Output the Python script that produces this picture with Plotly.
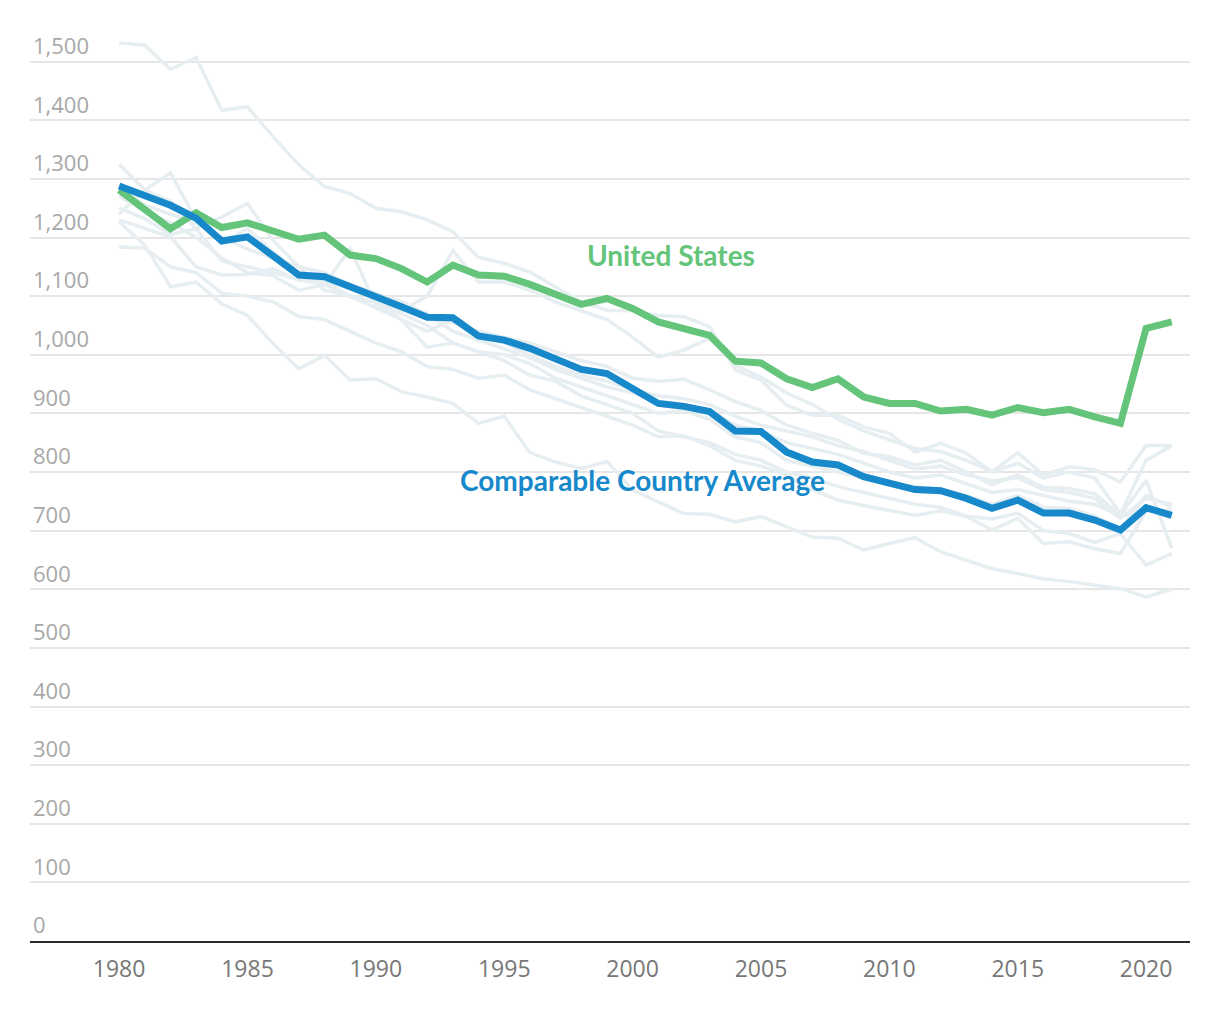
import plotly.graph_objects as go

years = list(range(1980, 2022))

us_values = [1281, 1247, 1215, 1242, 1217, 1225, 1211, 1197, 1204, 1170,
             1164, 1147, 1124, 1153, 1136, 1134, 1120, 1103, 1086, 1096,
             1079, 1056, 1046, 1033, 989, 986, 959, 944, 959, 928,
             917, 917, 904, 907, 897, 910, 901, 907, 894, 883,
             1045, 1056]

comparable_avg = [1288, 1272, 1255, 1233, 1194, 1201, 1167, 1136, 1133, 1116,
                  1102, 1082, 1064, 1063, 1032, 1025, 1011, 992, 975, 968,
                  941, 917, 912, 903, 870, 869, 834, 817, 812, 792,
                  781, 770, 768, 755, 738, 752, 730, 730, 718, 701,
                  739, 726]

country_a = [1532, 1528, 1487, 1507, 1417, 1423, 1372, 1324, 1287, 1275,
             1250, 1244, 1230, 1210, 1166, 1156, 1141, 1116, 1090, 1076,
             1075, 1067, 1065, 1048, 974, 957, 914, 897, 897, 877,
             866, 834, 849, 832, 800, 833, 795, 809, 804, 783,
             845, 845]
country_b = [1325, 1281, 1262, 1215, 1160, 1150, 1140, 1128, 1120, 1100,
             1090, 1075, 1100, 1178, 1124, 1124, 1110, 1090, 1075, 1060,
             1030, 996, 1008, 1028, 982, 962, 935, 915, 890, 870,
             855, 840, 835, 820, 800, 815, 790, 800, 790, 729,
             820, 845]
country_c = [1240, 1281, 1310, 1230, 1190, 1215, 1175, 1140, 1135, 1118,
             1100, 1085, 1065, 1055, 1040, 1030, 1020, 1005, 990, 980,
             960, 955, 958, 940, 920, 905, 880, 866, 854, 832,
             826, 812, 820, 800, 778, 795, 774, 772, 763, 726,
             786, 670]
country_d = [1250, 1232, 1205, 1215, 1235, 1258, 1195, 1150, 1110, 1100,
             1080, 1060, 1040, 1060, 1030, 1020, 1000, 980, 965, 955,
             940, 930, 925, 915, 895, 880, 870, 860, 845, 835,
             820, 805, 810, 795, 785, 790, 770, 765, 755, 721,
             755, 745]
country_e = [1270, 1245, 1225, 1200, 1165, 1140, 1135, 1110, 1120, 1181,
             1085, 1070, 1050, 1020, 1005, 1000, 985, 960, 945, 930,
             915, 900, 905, 890, 860, 850, 820, 810, 800, 790,
             780, 775, 770, 760, 745, 760, 740, 738, 725, 703,
             760, 740]
country_f = [1230, 1215, 1201, 1150, 1136, 1137, 1147, 1127, 1127, 1099,
             1090, 1059, 1013, 1020, 1005, 990, 965, 955, 930, 915,
             900, 870, 860, 850, 830, 820, 800, 790, 775, 765,
             755, 745, 740, 725, 720, 730, 700, 695, 680, 695,
             641, 661]
country_g = [1184, 1182, 1150, 1140, 1105, 1100, 1090, 1065, 1060, 1040,
             1020, 1005, 980, 975, 960, 965, 940, 925, 910, 895,
             880, 860, 862, 845, 820, 810, 795, 770, 752, 743,
             735, 726, 734, 724, 701, 721, 678, 681, 669, 661,
             733, 735]
country_h = [1285, 1255, 1240, 1225, 1200, 1180, 1165, 1150, 1140, 1120,
             1105, 1090, 1070, 1040, 1025, 1010, 995, 975, 960, 945,
             935, 920, 915, 905, 880, 870, 850, 840, 830, 815,
             800, 790, 795, 780, 765, 770, 760, 750, 745, 725,
             735, 730]
country_i = [1227, 1187, 1116, 1124, 1087, 1067, 1019, 976, 999, 957,
             959, 937, 928, 917, 883, 895, 833, 817, 806, 818,
             769, 749, 729, 728, 715, 724, 706, 689, 687, 667,
             678, 688, 664, 650, 635, 627, 618, 613, 607, 601,
             587, 600]

gray_series = [country_a, country_b, country_c, country_d, country_e,
               country_f, country_g, country_h, country_i]

y_ticks = [0, 100, 200, 300, 400, 500, 600, 700, 800, 900, 1000, 1100, 1200, 1300, 1400, 1500]
y_tick_labels = ["0", "100", "200", "300", "400", "500", "600", "700", "800", "900",
                 "1,000", "1,100", "1,200", "1,300", "1,400", "1,500"]
x_ticks = [1980, 1985, 1990, 1995, 2000, 2005, 2010, 2015, 2020]

fig = go.Figure()

for s in gray_series:
    fig.add_trace(go.Scatter(x=years, y=s, mode="lines",
                             line=dict(color="#e7eef1", width=3.5),
                             hoverinfo="skip", showlegend=False))

fig.add_trace(go.Scatter(x=years, y=us_values, mode="lines",
                         line=dict(color="#63c47a", width=7),
                         name="United States", showlegend=False))
fig.add_trace(go.Scatter(x=years, y=comparable_avg, mode="lines",
                         line=dict(color="#1789cb", width=7),
                         name="Comparable Country Average", showlegend=False))

fig.add_annotation(x=2001.5, y=1170, text="<b>United States</b>", showarrow=False,
                   font=dict(family="Lato", size=28, color="#63c47a"),
                   xanchor="center", yanchor="middle")
fig.add_annotation(x=2000.4, y=786, text="<b>Comparable Country Average</b>", showarrow=False,
                   font=dict(family="Lato", size=28, color="#1789cb"),
                   xanchor="center", yanchor="middle")

fig.update_layout(
    width=1220, height=1012,
    margin=dict(l=30, r=30, t=2.9, b=71.3),
    paper_bgcolor="white", plot_bgcolor="white",
    showlegend=False,
)
fig.update_xaxes(
    range=[1976.53, 2021.71],
    tickvals=x_ticks,
    ticks="", showgrid=False, zeroline=False,
    showline=True, linecolor="#2b2b2b", linewidth=2,
    tickfont=dict(family="Open Sans", size=23, color="#777777"),
    ticklabelstandoff=6,
)
fig.update_yaxes(
    range=[0, 1600],
    tickvals=y_ticks, ticktext=y_tick_labels,
    ticks="", showgrid=True, gridcolor="#e6e6e6", gridwidth=2,
    zeroline=False, showline=False,
    ticklabelposition="inside top",
    tickfont=dict(family="Open Sans", size=22, color="#a8a8a8"),
)

fig.write_html("out.html")
